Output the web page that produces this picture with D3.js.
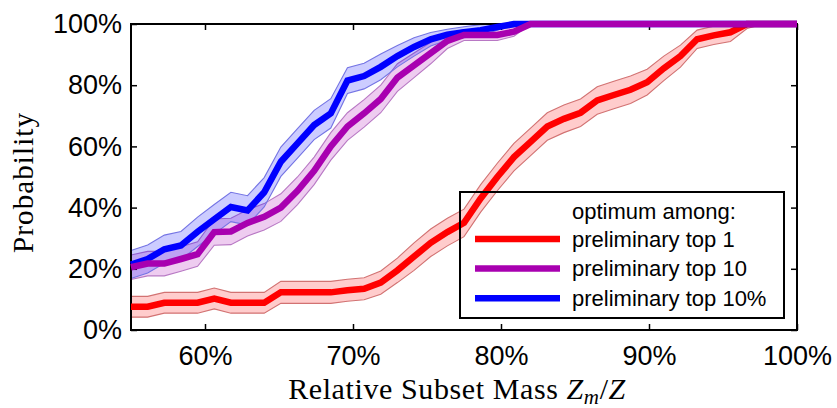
<!DOCTYPE html>
<html>
<head>
<meta charset="utf-8">
<script src="https://cdn.jsdelivr.net/npm/d3@7"></script>
<style>
  html, body { margin: 0; padding: 0; background: #fff; }
  svg { display: block; }
</style>
</head>
<body>
<svg id="chart" width="837" height="408"></svg>
<script>
// ---------- data (percent) ----------
const xVals = [55, 56.125, 57.25, 58.375, 59.5, 60.625, 61.75, 62.875, 64, 65.125,
  66.25, 67.375, 68.5, 69.625, 70.75, 71.875, 73, 74.125, 75.25, 76.375,
  77.5, 78.625, 79.75, 80.875, 82, 83.125, 84.25, 85.375, 86.5, 87.625,
  88.75, 89.875, 91, 92.125, 93.25, 94.375, 95.5, 96.625, 97.75, 98.875, 100];

const top1 = [7.6, 7.6, 8.9, 8.9, 8.9, 10.3, 8.9, 8.9, 8.9, 12.3,
  12.3, 12.3, 12.3, 13, 13.5, 15.5, 19.5, 24, 28.5, 32,
  35, 43, 50, 56.5, 61.5, 66.5, 69, 71, 75, 76.8,
  78.5, 81, 85.5, 89.5, 95, 96.3, 97.3, 100, 100, 100, 100];
const top1Err = [3.4, 3.4, 3.4, 3.4, 3.4, 3.4, 3.4, 3.4, 3.4, 3.6,
  3.6, 3.6, 3.6, 3.6, 3.6, 3.8, 4, 4.5, 4.5, 4.5,
  4.5, 4.5, 4.5, 4.5, 4.5, 4.5, 4.5, 4.5, 4.5, 4.5,
  4.5, 4.2, 4, 3.6, 3, 3, 3, 1.5, 0, 0, 0];

const top10 = [20.5, 21.7, 21.7, 23.2, 24.8, 32, 32.2, 35, 37, 40,
  45.5, 52, 60, 66.5, 70.8, 75.5, 82.5, 86.5, 90.5, 94.5,
  96.4, 96.4, 96.4, 97.5, 100, 100, 100, 100, 100, 100,
  100, 100, 100, 100, 100, 100, 100, 100, 100, 100, 100];
const top10Err = [4, 4, 4, 4, 4, 4.3, 4.3, 4.3, 4.3, 4.5,
  4.5, 4.5, 4.5, 4.5, 4.5, 4.5, 4.5, 4, 3.5, 2.5,
  1.8, 1.8, 1.8, 1.5, 0, 0, 0, 0, 0, 0,
  0, 0, 0, 0, 0, 0, 0, 0, 0, 0, 0];

const top10pct = [21.4, 23.2, 26.4, 27.6, 32.1, 36.2, 40.2, 39.1, 45, 55,
  61, 67, 70.8, 81.5, 83, 86, 89.5, 92.5, 95, 96.5,
  97.3, 98, 99, 100, 100, 100, 100, 100, 100, 100,
  100, 100, 100, 100, 100, 100, 100, 100, 100, 100, 100];
const top10pctErr = [4.6, 4.6, 4.6, 4.6, 4.8, 4.8, 4.8, 4.8, 4.8, 4.8,
  4.8, 4.8, 4.8, 4.2, 4.2, 4.2, 3.5, 3, 2.2, 1.8,
  1.8, 1.8, 1, 0, 0, 0, 0, 0, 0, 0,
  0, 0, 0, 0, 0, 0, 0, 0, 0, 0, 0];

const xTicks = [60, 70, 80, 90, 100];
const yTicks = [0, 20, 40, 60, 80, 100];
const legendTitle = "optimum among:";
const seriesNames = ["preliminary top 1", "preliminary top 10", "preliminary top 10%"];

// ---------- layout ----------
const svg = d3.select("#chart");
const L = 131, R = 797, T = 24, B = 330;
const x = d3.scaleLinear().domain([55, 100]).range([L, R]);
const y = d3.scaleLinear().domain([0, 100]).range([B, T]);

const series = [
  { name: seriesNames[0], v: top1, e: top1Err, line: "#ff0000", fill: "rgba(255,0,0,0.2)", edge: "#d27272" },
  { name: seriesNames[1], v: top10, e: top10Err, line: "#a800b0", fill: "rgba(170,0,180,0.2)", edge: "#b878c4" },
  { name: seriesNames[2], v: top10pct, e: top10pctErr, line: "#0000ff", fill: "rgba(0,0,255,0.2)", edge: "#7474e4" }
];
const clamp = v => Math.max(0, Math.min(100, v));

// bands
series.forEach(s => {
  const pts = xVals.map((xv, i) => ({ x: xv, lo: clamp(s.v[i] - s.e[i]), hi: clamp(s.v[i] + s.e[i]) }));
  svg.append("path").datum(pts)
    .attr("d", d3.area().x(d => x(d.x)).y0(d => y(d.lo)).y1(d => y(d.hi)))
    .attr("fill", s.fill).attr("stroke", "none");
  ["lo", "hi"].forEach(k => {
    svg.append("path").datum(pts)
      .attr("d", d3.line().x(d => x(d.x)).y(d => y(d[k])))
      .attr("fill", "none").attr("stroke", s.edge).attr("stroke-width", 1.1);
  });
});

// frame + axes (ticks inward)
const fontSans = "'Liberation Sans', Arial, Helvetica, sans-serif";
const fontSerif = "'Liberation Serif', 'Times New Roman', serif";

const gB = svg.append("g").attr("transform", `translate(0,${B})`)
  .call(d3.axisBottom(x).tickValues(xTicks).tickSize(-6).tickPadding(16).tickFormat(d => d + "%"));
const gT = svg.append("g").attr("transform", `translate(0,${T})`)
  .call(d3.axisTop(x).tickValues(xTicks).tickSize(-6).tickFormat(""));
const gL = svg.append("g").attr("transform", `translate(${L},0)`)
  .call(d3.axisLeft(y).tickValues(yTicks).tickSize(-6).tickPadding(9).tickFormat(d => d + "%"));
const gR = svg.append("g").attr("transform", `translate(${R},0)`)
  .call(d3.axisRight(y).tickValues(yTicks).tickSize(-6).tickFormat(""));
[gB, gT, gL, gR].forEach(g => {
  g.select(".domain").remove();
  g.selectAll(".tick line").attr("stroke", "#000").attr("stroke-width", 1.5);
  g.selectAll(".tick text").attr("fill", "#000").style("font-family", fontSans).style("font-size", "27px");
});
svg.append("rect").attr("x", L).attr("y", T).attr("width", R - L).attr("height", B - T)
  .attr("fill", "none").attr("stroke", "#000").attr("stroke-width", 2);

// lines (red, blue, then purple on top)
const lineGen = d3.line().x((d, i) => x(xVals[i])).y(d => y(d));
[series[0], series[2], series[1]].forEach(s => {
  svg.append("path").datum(s.v)
    .attr("d", lineGen)
    .attr("fill", "none").attr("stroke", s.line).attr("stroke-width", 6.5)
    .attr("stroke-linejoin", "miter").attr("stroke-miterlimit", 3);
});

// axis titles
svg.append("text").attr("transform", "translate(33,183) rotate(-90)")
  .attr("text-anchor", "middle").style("font-family", fontSerif).style("font-size", "29px")
  .attr("fill", "#000").attr("textLength", 140).attr("lengthAdjust", "spacing")
  .text("Probability");

const xl = svg.append("text").attr("x", 457).attr("y", 398.5).attr("text-anchor", "middle")
  .style("font-family", fontSerif).style("font-size", "30px").style("letter-spacing", "0.6px")
  .attr("fill", "#000");
xl.append("tspan").text("Relative Subset Mass ");
xl.append("tspan").style("font-style", "italic").text("Z");
xl.append("tspan").style("font-style", "italic").style("font-size", "21px").attr("dy", 5).text("m");
xl.append("tspan").attr("dy", -5).text("/");
xl.append("tspan").style("font-style", "italic").text("Z");

// legend
const lg = svg.append("g");
lg.append("rect").attr("x", 460).attr("y", 192).attr("width", 324).attr("height", 126)
  .attr("fill", "none").attr("stroke", "#000").attr("stroke-width", 2);
lg.append("text").attr("x", 572).attr("y", 211).attr("dominant-baseline", "central")
  .style("font-family", fontSans).style("font-size", "22px").attr("fill", "#000").text(legendTitle);
series.forEach((s, i) => {
  const yy = 239 + i * 29.6;
  lg.append("line").attr("x1", 475).attr("x2", 560).attr("y1", yy).attr("y2", yy)
    .attr("stroke", s.line).attr("stroke-width", 6.5);
  lg.append("text").attr("x", 572).attr("y", yy).attr("dominant-baseline", "central")
    .style("font-family", fontSans).style("font-size", "22px").attr("fill", "#000").text(s.name);
});
</script>
</body>
</html>
